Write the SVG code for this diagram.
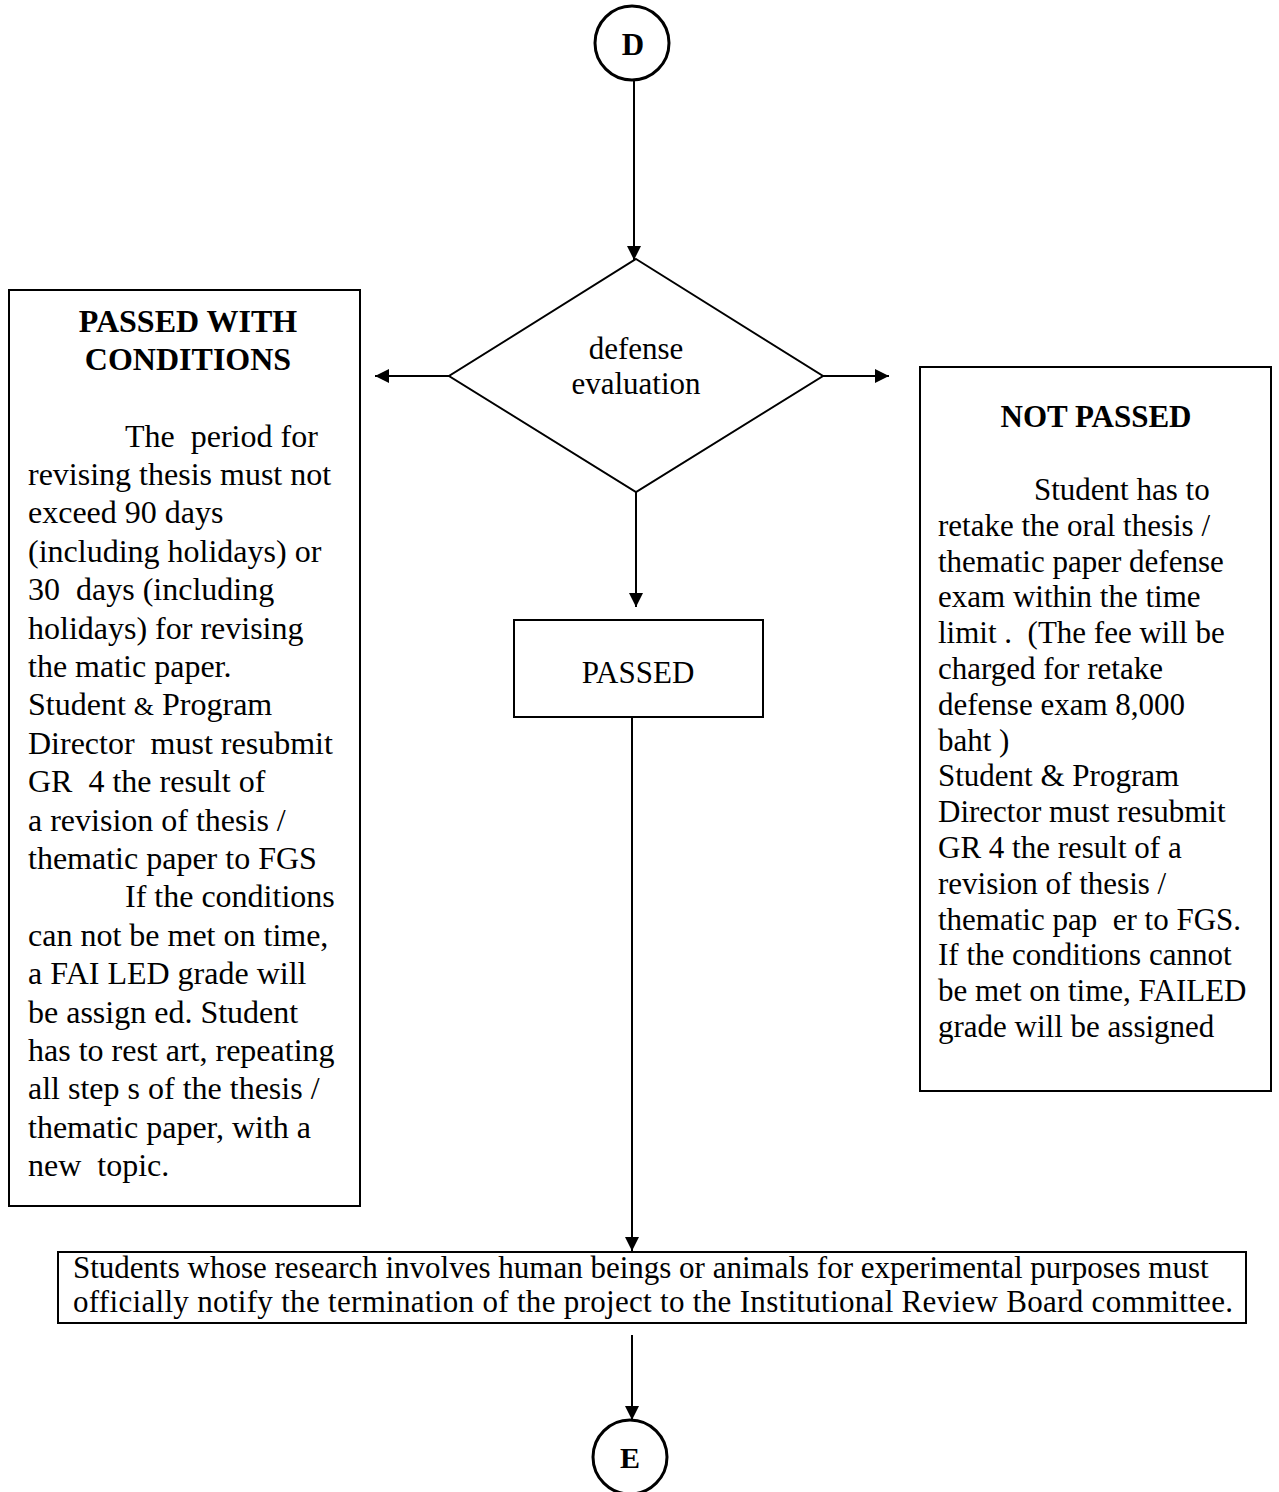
<svg xmlns="http://www.w3.org/2000/svg" width="1279" height="1492" viewBox="0 0 1279 1492">
<style>
text{font-family:"Liberation Serif","Times New Roman",serif;fill:#000;white-space:pre}
.b{font-weight:bold}
.box{fill:#fff;stroke:#000;stroke-width:2}
.circ{fill:#fff;stroke:#000;stroke-width:3}
.dia{fill:#fff;stroke:#000;stroke-width:2}
.con{fill:none;stroke:#000;stroke-width:2}
.l32{font-size:32px}
.l31{font-size:31px}
</style>
<defs>
<marker id="ah" viewBox="0 0 14 14" refX="14" refY="7" markerWidth="14" markerHeight="14" markerUnits="userSpaceOnUse" orient="auto">
<path d="M0,0 L14,7 L0,14 z" fill="#000"/>
</marker>
</defs>

<g id="connectors">
<path class="con" d="M634 81 L634 260" marker-end="url(#ah)"/>
<path class="con" d="M449 376 L375 376" marker-end="url(#ah)"/>
<path class="con" d="M823 376 L889 376" marker-end="url(#ah)"/>
<path class="con" d="M636 492 L636 607" marker-end="url(#ah)"/>
<path class="con" d="M632 717 L632 1251" marker-end="url(#ah)"/>
<path class="con" d="M632 1335 L632 1420" marker-end="url(#ah)"/>
</g>

<g id="node-D">
<circle class="circ" cx="632" cy="43" r="37"/>
<text class="b" x="633" y="55" font-size="31" text-anchor="middle">D</text>
</g>

<g id="node-decision">
<polygon class="dia" points="636,259 823,376 636,492 449,376"/>
<text x="636" y="359" font-size="31" text-anchor="middle">defense</text>
<text x="636" y="394" font-size="31" text-anchor="middle">evaluation</text>
</g>

<g id="node-passed-conditions">
<rect class="box" x="9" y="290" width="351" height="916"/>
<text class="b" x="188" y="332" font-size="32" text-anchor="middle">PASSED WITH</text>
<text class="b" x="188" y="370" font-size="32" text-anchor="middle">CONDITIONS</text>
<text class="l32">
<tspan x="125" y="446.5">The  period for</tspan>
<tspan x="28" y="484.9">revising thesis must not</tspan>
<tspan x="28" y="523.3">exceed 90 days</tspan>
<tspan x="28" y="561.7">(including holidays) or</tspan>
<tspan x="28" y="600.1">30  days (including</tspan>
<tspan x="28" y="638.5">holidays) for revising</tspan>
<tspan x="28" y="676.9">the matic paper.</tspan>
<tspan x="28" y="715.3">Student <tspan font-size="26">&amp;</tspan> Program</tspan>
<tspan x="28" y="753.7">Director  must resubmit</tspan>
<tspan x="28" y="792.1">GR  4 the result of</tspan>
<tspan x="28" y="830.5">a revision of thesis /</tspan>
<tspan x="28" y="868.9">thematic paper to FGS</tspan>
<tspan x="125" y="907.3">If the conditions</tspan>
<tspan x="28" y="945.7">can not be met on time,</tspan>
<tspan x="28" y="984.1">a FAI LED grade will</tspan>
<tspan x="28" y="1022.5">be assign ed. Student</tspan>
<tspan x="28" y="1060.9">has to rest art, repeating</tspan>
<tspan x="28" y="1099.3">all step s of the thesis /</tspan>
<tspan x="28" y="1137.7">thematic paper, with a</tspan>
<tspan x="28" y="1176.1">new  topic.</tspan>
</text>
</g>

<g id="node-not-passed">
<rect class="box" x="920" y="367" width="351" height="724"/>
<text class="b" x="1096" y="427" font-size="31" text-anchor="middle">NOT PASSED</text>
<text class="l31">
<tspan x="1034" y="500">Student has to</tspan>
<tspan x="938" y="535.8">retake the oral thesis /</tspan>
<tspan x="938" y="571.6">thematic paper defense</tspan>
<tspan x="938" y="607.4">exam within the time</tspan>
<tspan x="938" y="643.2">limit .  (The fee will be</tspan>
<tspan x="938" y="679">charged for retake</tspan>
<tspan x="938" y="714.8">defense exam 8,000</tspan>
<tspan x="938" y="750.6">baht )</tspan>
<tspan x="938" y="786.4">Student &amp; Program</tspan>
<tspan x="938" y="822.2">Director must resubmit</tspan>
<tspan x="938" y="858">GR 4 the result of a</tspan>
<tspan x="938" y="893.8">revision of thesis /</tspan>
<tspan x="938" y="929.6">thematic pap  er to FGS.</tspan>
<tspan x="938" y="965.4">If the conditions cannot</tspan>
<tspan x="938" y="1001.2">be met on time, FAILED</tspan>
<tspan x="938" y="1037">grade will be assigned</tspan>
</text>
</g>

<g id="node-passed">
<rect class="box" x="514" y="620" width="249" height="97"/>
<text x="638" y="683" font-size="31" text-anchor="middle">PASSED</text>
</g>

<g id="node-irb">
<rect class="box" x="58" y="1252" width="1188" height="71"/>
<text class="l31" x="73" y="1278">Students whose research involves human beings or animals for experimental purposes must</text>
<text class="l31" x="73" y="1312" textLength="1160" lengthAdjust="spacing">officially notify the termination of the project to the Institutional Review Board committee.</text>
</g>

<g id="node-E">
<circle class="circ" cx="630" cy="1457" r="37"/>
<text class="b" x="630" y="1468" font-size="30" text-anchor="middle">E</text>
</g>
</svg>
